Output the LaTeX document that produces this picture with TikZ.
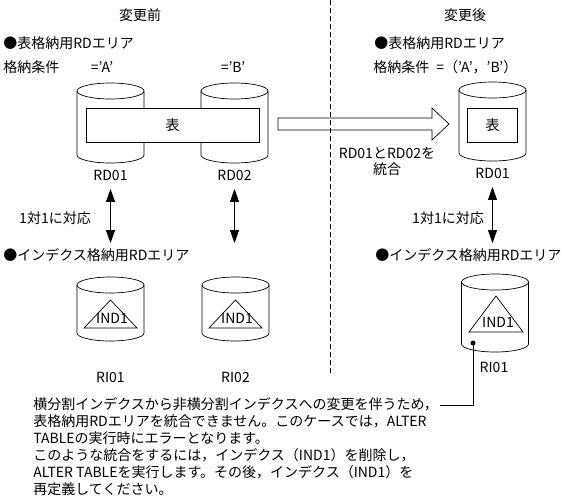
\documentclass[tikz,border=0pt]{standalone}
\usepackage{fontspec}
\setmainfont{Noto Sans CJK JP}
\usetikzlibrary{arrows.meta}
\newcommand{\dbcyl}[3]{%
  \draw ({#1-33.5},{#2+8}) -- ({#1-33.5},{#3-8})
    arc [start angle=180, end angle=360, x radius=33.5pt, y radius=8pt]
    -- ({#1+33.5},{#2+8});
  \draw (#1,{#2+8}) ellipse [x radius=33.5pt, y radius=8pt];
}
\begin{document}
\begin{tikzpicture}[x=1pt, y=-1pt, line width=0.7pt,
    font={\fontsize{14}{17}\selectfont},
    pairarrow/.style={{Triangle[width=9pt,length=13pt]}-{Triangle[width=9pt,length=13pt]}},
    hd/.style={anchor=west, inner sep=0pt}]
        \useasboundingbox (0,0) rectangle (561,501);
        \draw [dash pattern=on 5pt off 3pt] (330,0) -- (330,373);
        \node (before) at (140,15) {変更前};
        \node (after) at (465,15) {変更後};
        \node [hd] (tblhdL) at (3,43) {●表格納用RDエリア};
        \node [hd] (condL) at (3,67) {格納条件};
        \node (condA) at (102,67) {='A'};
        \node (condB) at (233,67) {='B'};
        \node [hd] (tblhdR) at (374,43) {●表格納用RDエリア};
        \node [hd] (condR) at (373,67) {格納条件};
        \node [hd] (condAB) at (436,67) {=（'A'，'B'）};
        \dbcyl{110.5}{83}{163}
        \dbcyl{234.5}{83}{163}
        \dbcyl{492.5}{82}{161}
        \node [draw, fill=white, minimum width=173pt, minimum height=34pt] (tblL) at (172.5,125) {表};
        \node [draw, minimum width=50pt, minimum height=34pt] (tblR) at (492.5,125) {表};
        \node (rd1L) at (110.5,175) {RD01};
        \node (rd2L) at (234.5,175) {RD02};
        \node (rd1R) at (492.5,173) {RD01};
        \draw (278,118) -- (432,118) -- (432,108) -- (449,124) -- (432,140) -- (432,130) -- (278,130) -- cycle;
        \node (merge1) at (387,153) {RD01とRD02を};
        \node (merge2) at (387,169) {統合};
        \node (oneL) at (55,218) {1対1に対応};
        \node (oneR) at (448,218) {1対1に対応};
        \node [hd] (idxhdL) at (3,255) {●インデクス格納用RDエリア};
        \node [hd] (idxhdR) at (375,255) {●インデクス格納用RDエリア};
        \draw [pairarrow] ([yshift=-5pt]rd1L.south) -- ([yshift=5pt]rd1L |- idxhdL.north);
        \draw [pairarrow] ([yshift=-5pt]rd2L.south) -- ([yshift=5pt]rd2L |- idxhdL.north);
        \draw [pairarrow] ([yshift=-5pt]rd1R.south) -- ([yshift=5pt]rd1R |- idxhdR.north);
        \dbcyl{110.5}{277}{341}
        \dbcyl{235.5}{277}{341}
        \dbcyl{495}{274}{352}
        \draw (110.5,300) -- (137,328) -- (84,328) -- cycle;
        \draw (235.5,300) -- (262,328) -- (209,328) -- cycle;
        \draw (496,296) -- (523,332) -- (469,332) -- cycle;
        \node (ind1L) at (112,318) {IND1};
        \node (ind2L) at (237,318) {IND1};
        \node (ind1R) at (498,322) {IND1};
        \node (ri1L) at (110.5,377) {RI01};
        \node (ri2L) at (235.5,377) {RI02};
        \node (ri1R) at (494,367) {RI01};
        \node [circle, fill, inner sep=0pt, minimum size=5pt] (dotR) at (473,343) {};
        \node [anchor=north west, align=left, inner sep=0pt] (note) at (33,397) {横分割インデクスから非横分割インデクスへの変更を伴うため，\\表格納用RDエリアを統合できません。このケースでは，ALTER\\TABLEの実行時にエラーとなります。\\このような統合をするには，インデクス（IND1）を削除し，\\ALTER TABLEを実行します。その後，インデクス（IND1）を\\再定義してください。};
        \coordinate (noteend) at (440,405);
        \draw (dotR.center) |- (noteend);
    \end{tikzpicture}
\end{document}
